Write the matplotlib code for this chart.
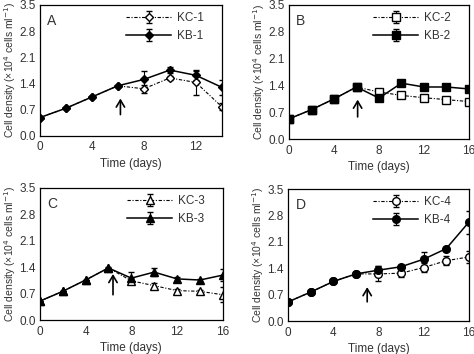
import matplotlib
matplotlib.use("Agg")
import matplotlib.pyplot as plt
import numpy as np

plt.rcParams['font.family'] = ['Liberation Sans', 'DejaVu Sans']

days_a = [0, 2, 4, 6, 8, 10, 12, 14]
days = [0, 2, 4, 6, 8, 10, 12, 14, 16]

# panel A
kc1 = [0.49, 0.74, 1.04, 1.34, 1.26, 1.55, 1.43, 0.78]
kc1_err = [0, 0, 0, 0, 0.10, 0.05, 0.33, 0.10]
kb1 = [0.49, 0.74, 1.04, 1.34, 1.51, 1.76, 1.62, 1.30]
kb1_err = [0, 0, 0, 0, 0.23, 0.07, 0.12, 0.20]
# panel B
kc2 = [0.53, 0.77, 1.05, 1.36, 1.23, 1.14, 1.08, 1.03, 0.98]
kc2_err = [0, 0, 0, 0, 0.04, 0.06, 0.05, 0.03, 0.05]
kb2 = [0.53, 0.77, 1.05, 1.36, 1.07, 1.46, 1.36, 1.36, 1.31]
kb2_err = [0, 0, 0, 0, 0.03, 0.04, 0.03, 0.03, 0.04]
# panel C
kc3 = [0.50, 0.76, 1.06, 1.38, 1.04, 0.91, 0.78, 0.76, 0.67]
kc3_err = [0, 0, 0, 0, 0.08, 0.06, 0.04, 0.04, 0.20]
kb3 = [0.50, 0.76, 1.06, 1.38, 1.11, 1.27, 1.09, 1.06, 1.19]
kb3_err = [0, 0, 0, 0.03, 0.15, 0.10, 0.05, 0.04, 0.15]
# panel D
kc4 = [0.51, 0.77, 1.05, 1.25, 1.25, 1.27, 1.42, 1.60, 1.70]
kc4_err = [0, 0, 0, 0, 0.20, 0.10, 0.12, 0.12, 0.15]
kb4 = [0.51, 0.77, 1.05, 1.25, 1.35, 1.44, 1.64, 1.92, 2.62]
kb4_err = [0, 0, 0, 0, 0.10, 0.04, 0.20, 0.05, 0.30]

panels = [
    ("A", days_a, kc1, kc1_err, kb1, kb1_err, "KC-1", "KB-1", "D", 14, 6.2, 1.0, 0.57),
    ("B", days, kc2, kc2_err, kb2, kb2_err, "KC-2", "KB-2", "s", 16, 6.1, 1.03, 0.58),
    ("C", days, kc3, kc3_err, kb3, kb3_err, "KC-3", "KB-3", "^", 16, 6.4, 1.22, 0.67),
    ("D", days, kc4, kc4_err, kb4, kb4_err, "KC-4", "KB-4", "o", 16, 7.0, 0.90, 0.51),
]
boxes = [
    [0.084, 0.616, 0.384, 0.370],
    [0.610, 0.607, 0.379, 0.379],
    [0.084, 0.096, 0.386, 0.373],
    [0.608, 0.093, 0.381, 0.373],
]

fig = plt.figure(figsize=(4.74, 3.54), dpi=100)
txt = '#333333'
for (lab, x, kc, kce, kb, kbe, nc, nb, mk, xmax, ax_x, ay0, ay1), box in zip(panels, boxes):
    ax = fig.add_axes(box)
    ms = 5.5 if mk != 'D' else 4.5
    ax.errorbar(x, kc, yerr=kce, color='black', ls=(0, (3, 1.5, 1, 1.5)), lw=0.8,
                marker=mk, ms=ms, mfc='white', mec='black', mew=1.0,
                ecolor='black', elinewidth=0.8, capsize=2, label=nc)
    ax.errorbar(x, kb, yerr=kbe, color='black', ls='-', lw=1.1,
                marker=mk, ms=ms, mfc='black', mec='black',
                ecolor='black', elinewidth=0.8, capsize=2, label=nb)
    ax.annotate('', xy=(ax_x, ay0), xytext=(ax_x, ay1),
                arrowprops=dict(arrowstyle='->,head_length=0.5,head_width=0.3',
                                color='black', lw=1.2, shrinkA=0, shrinkB=0))
    ax.set_xlim(0, xmax)
    ax.set_ylim(0, 3.5)
    ax.set_xticks([0, 4, 8, 12, 16] if xmax == 16 else [0, 4, 8, 12])
    ax.set_yticks(np.arange(0, 3.51, 0.7))
    ax.set_yticklabels(['%.1f' % v for v in np.arange(0, 3.51, 0.7)])
    ax.tick_params(length=0, labelsize=8.5, labelcolor=txt, pad=4)
    ax.tick_params(axis='y', pad=3)
    for s in ax.spines.values():
        s.set_linewidth(0.9)
    ax.set_xlabel('Time (days)', fontsize=8.5, color=txt, labelpad=3)
    ax.set_ylabel('Cell density (×10$^4$ cells ml$^{-1}$)', fontsize=7.5, color=txt, labelpad=1)
    ax.text(0.04, 0.85, lab, transform=ax.transAxes, fontsize=10, color=txt)
    ax.legend(loc='upper right', frameon=False, fontsize=8.5, handlelength=3.8,
              borderaxespad=0.3, borderpad=0.3, labelspacing=0.5, handletextpad=0.5,
              labelcolor=txt, bbox_to_anchor=(0.94, 1.0))

fig.savefig('out.png', dpi=100)
